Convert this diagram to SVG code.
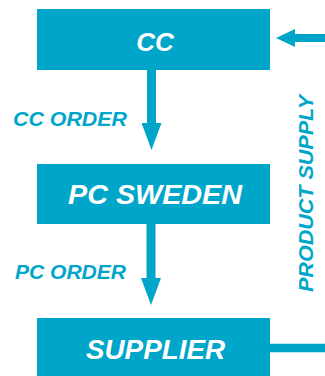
<svg xmlns="http://www.w3.org/2000/svg" width="325" height="376" viewBox="0 0 325 376">
<defs>
<style>
.box{fill:#00A6CA;}
.ttl{font-family:"Liberation Sans",Arial,sans-serif;font-weight:bold;font-style:italic;fill:#ffffff;}
.lbl{font-family:"Liberation Sans",Arial,sans-serif;font-weight:bold;font-style:italic;fill:#00A6CA;font-size:20px;}
.con{stroke:#00A6CA;fill:none;}
</style>
<marker id="headDown" markerUnits="userSpaceOnUse" viewBox="0 0 27 20" refX="0" refY="10" markerWidth="27" markerHeight="20" orient="auto">
<path d="M0,0 L27,10 L0,20 z" fill="#00A6CA"/>
</marker>
<marker id="headLeft" markerUnits="userSpaceOnUse" viewBox="0 0 19 18" refX="0" refY="9" markerWidth="19" markerHeight="18" orient="auto">
<path d="M0,0 L19,9 L0,18 z" fill="#00A6CA"/>
</marker>
</defs>
<rect width="325" height="376" fill="#ffffff"/>
<g id="connectors">
<line class="con" x1="151.5" y1="70" x2="151.5" y2="123" stroke-width="9" marker-end="url(#headDown)"/>
<line class="con" x1="151" y1="224" x2="151" y2="278" stroke-width="9" marker-end="url(#headDown)"/>
<line class="con" x1="325" y1="38" x2="295" y2="38" stroke-width="8" marker-end="url(#headLeft)"/>
<line class="con" x1="270" y1="348" x2="325" y2="348" stroke-width="8.5"/>
<text class="lbl" x="13" y="126" textLength="114" lengthAdjust="spacingAndGlyphs">CC ORDER</text>
<text class="lbl" x="15" y="279" textLength="111" lengthAdjust="spacingAndGlyphs">PC ORDER</text>
<text class="lbl" font-size="21" transform="translate(313,292) rotate(-90)" x="0" y="0" textLength="197" lengthAdjust="spacingAndGlyphs">PRODUCT SUPPLY</text>
</g>
<g id="node-cc">
<rect class="box" x="37" y="9" width="233" height="61"/>
<text class="ttl" x="155" y="51" font-size="26" text-anchor="middle">CC</text>
</g>
<g id="node-pc-sweden">
<rect class="box" x="37" y="164" width="233" height="60"/>
<text class="ttl" x="68" y="204" font-size="27" textLength="174" lengthAdjust="spacingAndGlyphs">PC SWEDEN</text>
</g>
<g id="node-supplier">
<rect class="box" x="37" y="318" width="233" height="58"/>
<text class="ttl" x="86" y="359" font-size="27" textLength="139" lengthAdjust="spacingAndGlyphs">SUPPLIER</text>
</g>
</svg>
